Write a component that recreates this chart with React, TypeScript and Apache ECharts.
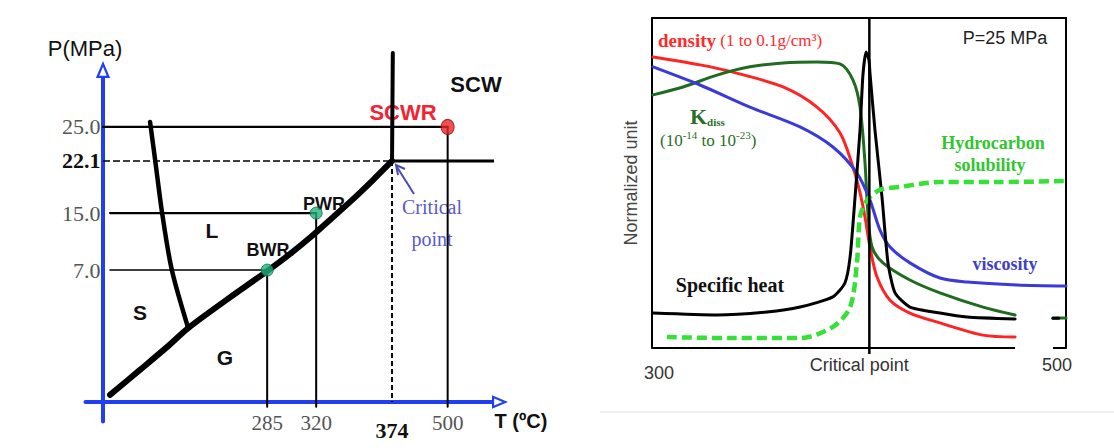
import React, { useEffect, useRef } from 'react';
import * as echarts from 'echarts';

// ---------- Left panel: schematic phase diagram of water ----------
// Schematic axis units (the diagram is not drawn to scale)
const tempTickPos = [42.2, 54.8, 74.3, 88.6];
const tempTickLabels = ['285', '320', '374', '500'];
const presTickPos = [40.7, 58.3, 74.4, 84.9];
const presTickLabels = ['7.0', '15.0', '22.1', '25.0'];

const vaporCurve = [
  [1.8, 2.2], [9.5, 9.9], [16.5, 17.0], [21.9, 22.8], [32.1, 31.8], [42.2, 40.4],
  [48.1, 45.7], [53.7, 51.2], [58.9, 56.8], [64.0, 62.3], [69.4, 68.5], [74.3, 74.4],
];
const meltingCurve = [[12.1, 86.4], [13.4, 74.7], [15.2, 58.3], [17.7, 40.7], [21.9, 22.8]];
const criticalIsotherm = [[74.3, 74.4], [74.5, 107.7]];
const criticalIsobar = [[74.3, 74.4], [103.9, 74.4]];

const reactorNames = ['BWR', 'PWR', 'SCWR'];
const reactorTemp = [42.2, 54.8, 88.6];
const reactorPres = [40.7, 58.3, 84.9];
const reactorLineStart = [1.8, 1.8, 0];
const axisFoot = -1.5;

// ---------- Right panel: properties of water at P = 25 MPa ----------
const criticalTemp = 405;
const rightTickValues = [300, criticalTemp, 500];
const rightTickLabels = ['300', 'Critical point', '500'];

const density = [
  [300.5, 0.882], [323.2, 0.858], [339.1, 0.836], [363.3, 0.791], [379.7, 0.73], [390.8, 0.652],
  [397.1, 0.548], [400.5, 0.47], [402.9, 0.397], [405.3, 0.306], [408.7, 0.215], [415.0, 0.145],
  [424.6, 0.106], [439.1, 0.076], [459.9, 0.039], [475.4, 0.033],
];
const viscosity = [
  [300.5, 0.852], [323.2, 0.797], [347.3, 0.73], [371.5, 0.67], [387.4, 0.609], [399.0, 0.53],
  [405.3, 0.448], [410.1, 0.358], [415.0, 0.306], [424.6, 0.258], [439.1, 0.212], [452.2, 0.2],
  [476.3, 0.191], [500, 0.188],
];
const kdiss = [
  [300.5, 0.767], [315.0, 0.791], [331.4, 0.827], [347.3, 0.852], [363.3, 0.864], [379.7, 0.867],
  [390.8, 0.861], [397.1, 0.812], [400.5, 0.73], [402.9, 0.561], [404.3, 0.409], [406.3, 0.306],
  [411.6, 0.258], [424.6, 0.206], [439.1, 0.167], [459.9, 0.124], [475.4, 0.1],
];
const kdissTail = [[493.7, 0.091], [500, 0.091]];
const specificHeat = [
  [300.5, 0.106], [331.4, 0.1], [355.6, 0.109], [371.5, 0.124], [387.4, 0.155], [393.2, 0.197],
  [395.7, 0.276], [398.1, 0.458], [400.5, 0.661], [401.9, 0.827], [403.4, 0.897], [404.8, 0.873],
  [405.3, 0.833], [407.7, 0.661], [411.1, 0.458], [414.0, 0.258], [417.4, 0.167], [424.6, 0.124],
  [439.1, 0.106], [452.2, 0.094], [475.4, 0.088],
];
const specificHeatTail = [[493.7, 0.09], [496.5, 0.09]];
const hydrocarbon = [
  [307.2, 0.033], [339.1, 0.03], [371.5, 0.03], [387.4, 0.064], [395.7, 0.124], [399.0, 0.258],
  [400.5, 0.397], [403.9, 0.448], [410.1, 0.479], [419.8, 0.488], [439.1, 0.503], [468.1, 0.503],
  [500, 0.506],
];
const bottomFrame = [[[300, 0], [475.4, 0]], [[493.7, 0], [500, 0]]];

const SERIF = '"Liberation Serif", "Times New Roman", serif';
const SANS = '"Liberation Sans", Arial, sans-serif';
const AXIS_BLUE = '#1f3ff0';
const hollowArrow = 'path://M5,0 L10,12 L0,12 Z M5,4 L2.4,10.4 L7.6,10.4 Z';

function nearestIndex(arr: number[], v: number) {
  let best = 0;
  arr.forEach((a, i) => { if (Math.abs(a - v) < Math.abs(arr[best] - v)) best = i; });
  return best;
}

function lineSeries(data: number[][], color: string, width: number, grid: number, extra: any = {}) {
  const { lineStyle, ...rest } = extra;
  return {
    type: 'line',
    xAxisIndex: grid === 0 ? 0 : 1,
    yAxisIndex: grid === 0 ? 0 : 1,
    data,
    showSymbol: false,
    symbol: 'none',
    clip: false,
    silent: true,
    lineStyle: { color, width, cap: 'round', join: 'round', ...(lineStyle || {}) },
    ...rest,
  };
}

function buildOption() {
  const series: any[] = [];
  // Left panel
  series.push(lineSeries(vaporCurve, '#000', 6, 0, { smooth: 0.3 }));
  series.push(lineSeries(meltingCurve, '#000', 4.5, 0, { smooth: 0.3 }));
  series.push(lineSeries(criticalIsotherm, '#000', 4, 0));
  series.push(lineSeries(criticalIsobar, '#000', 3, 0));
  series.push(lineSeries([[0, presTickPos[2]], [tempTickPos[2], presTickPos[2]]], '#000', 1.6, 0, { lineStyle: { type: [7, 3], cap: 'butt' } }));
  series.push(lineSeries([[tempTickPos[2], presTickPos[2]], [tempTickPos[2], 0]], '#000', 2, 0, { lineStyle: { type: [5, 3], cap: 'butt' } }));
  reactorNames.forEach((_, i) => {
    series.push(lineSeries([[reactorLineStart[i], reactorPres[i]], [reactorTemp[i], reactorPres[i]]], '#000', i === 0 ? 1.5 : 2.2, 0));
    series.push(lineSeries([[reactorTemp[i], reactorPres[i]], [reactorTemp[i], axisFoot]], '#000', 2, 0));
  });
  series.push({
    type: 'scatter', xAxisIndex: 0, yAxisIndex: 0, silent: true, z: 5,
    data: reactorNames.map((n, i) => ({
      name: n,
      value: [reactorTemp[i], reactorPres[i]],
      symbolSize: i === 2 ? [13, 15] : 12,
      itemStyle: i === 2
        ? { color: '#ec2428', borderColor: '#8a1010', borderWidth: 1 }
        : { color: '#20b37c', borderColor: '#0c6b45', borderWidth: 1 },
    })),
  });

  // Right panel
  series.push(lineSeries(density, '#ff2424', 3, 1, { smooth: 0.3 }));
  series.push(lineSeries(kdiss, '#1f6b1f', 3, 1, { smooth: 0.3 }));
  series.push(lineSeries(kdissTail, '#1f6b1f', 3, 1));
  series.push(lineSeries(viscosity, '#3a3ad8', 3, 1, { smooth: 0.3 }));
  series.push(lineSeries(specificHeat, '#000', 3, 1, { smooth: 0.2 }));
  series.push(lineSeries(specificHeatTail, '#000', 3, 1));
  series.push(lineSeries(hydrocarbon, '#36e036', 4.5, 1, { smooth: 0.3, lineStyle: { type: [10, 5], cap: 'butt' } }));
  series.push(lineSeries([[criticalTemp, -0.018], [criticalTemp, 1]], '#000', 2.5, 1, { lineStyle: { cap: 'butt' } }));
  bottomFrame.forEach((seg) => series.push(lineSeries(seg, '#000', 2, 1, { lineStyle: { cap: 'butt' } })));

  const noSplit = { show: false };
  const frameLine = { show: true, onZero: false, lineStyle: { color: '#000', width: 2 } };
  const center = { textAlign: 'center', textVerticalAlign: 'middle' };

  return {
    animation: false,
    backgroundColor: '#fff',
    grid: [
      { left: 85.5, top: 78, width: 406.5, height: 343.4, outerBoundsMode: 'none' },
      { left: 652, top: 18, width: 414, height: 330, outerBoundsMode: 'none' },
    ],
    xAxis: [
      {
        type: 'value', gridIndex: 0, min: -4.5, max: 100,
        axisLine: {
          show: true, onZero: true,
          lineStyle: { color: AXIS_BLUE, width: 4 },
          symbol: ['none', hollowArrow], symbolSize: [17, 16], symbolOffset: [0, 8],
        },
        axisTick: { show: false }, splitLine: noSplit,
        axisLabel: {
          customValues: tempTickPos, margin: -9, color: '#555', fontFamily: SERIF, fontSize: 21,
          formatter: (v: number) => {
            const i = nearestIndex(tempTickPos, v);
            return i === 2 ? `{b|${tempTickLabels[i]}}` : tempTickLabels[i];
          },
          rich: { b: { fontFamily: SERIF, fontSize: 22, fontWeight: 'bold', color: '#111', padding: [7, 0, 0, 0] } },
        },
      },
      {
        type: 'value', gridIndex: 1, min: 300, max: 500, position: 'bottom',
        axisLine: { show: false, onZero: false }, axisTick: { show: false }, splitLine: noSplit,
        axisLabel: {
          customValues: rightTickValues, margin: 8, color: '#333', fontFamily: SANS, fontSize: 18,
          formatter: (v: number) => {
            const i = nearestIndex(rightTickValues, v);
            return `{t${i}|${rightTickLabels[i]}}`;
          },
          rich: {
            t0: { fontFamily: SANS, fontSize: 18, color: '#333', padding: [8, 0, 0, 14] },
            t1: { fontFamily: SANS, fontSize: 18, color: '#333', padding: [0, 20, 0, 0] },
            t2: { fontFamily: SANS, fontSize: 18, color: '#333', padding: [0, 18, 0, 0] },
          },
        },
      },
      {
        type: 'value', gridIndex: 1, min: 300, max: 500, position: 'top',
        axisLine: frameLine, axisTick: { show: false }, axisLabel: { show: false }, splitLine: noSplit,
      },
    ],
    yAxis: [
      {
        type: 'value', gridIndex: 0, min: -6, max: 100,
        axisLine: {
          show: true, onZero: true,
          lineStyle: { color: AXIS_BLUE, width: 4 },
          symbol: ['none', hollowArrow], symbolSize: [15, 17], symbolOffset: [0, 8.5],
        },
        axisTick: { show: false }, splitLine: noSplit,
        axisLabel: {
          customValues: presTickPos, margin: -15, color: '#555', fontFamily: SERIF, fontSize: 22,
          formatter: (v: number) => {
            const i = nearestIndex(presTickPos, v);
            return i === 2 ? `{b|${presTickLabels[i]}}` : presTickLabels[i];
          },
          rich: { b: { fontFamily: SERIF, fontSize: 22, fontWeight: 'bold', color: '#111' } },
        },
      },
      {
        type: 'value', gridIndex: 1, min: 0, max: 1, position: 'left',
        axisLine: frameLine, axisTick: { show: false }, axisLabel: { show: false }, splitLine: noSplit,
        name: 'Normalized unit', nameLocation: 'middle', nameGap: 12,
        nameTextStyle: { fontFamily: SANS, fontSize: 18, color: '#444' },
      },
      {
        type: 'value', gridIndex: 1, min: 0, max: 1, position: 'right',
        axisLine: frameLine, axisTick: { show: false }, axisLabel: { show: false }, splitLine: noSplit,
      },
    ],
    series,
    graphic: [
      { type: 'line', shape: { x1: 600, y1: 412, x2: 1114, y2: 412 }, style: { stroke: '#e2e2e2', lineWidth: 1 }, silent: true },
      // left panel texts
      { type: 'text', x: 85, y: 48, style: { text: 'P(MPa)', font: `22px ${SANS}`, fill: '#111', ...center } },
      { type: 'text', x: 521, y: 421, style: { text: 'T (ºC)', font: `bold 20px ${SANS}`, fill: '#111', ...center } },
      { type: 'text', x: 140, y: 312, style: { text: 'S', font: `bold 21px ${SANS}`, fill: '#111', ...center } },
      { type: 'text', x: 212, y: 230, style: { text: 'L', font: `bold 21px ${SANS}`, fill: '#111', ...center } },
      { type: 'text', x: 225, y: 357, style: { text: 'G', font: `bold 21px ${SANS}`, fill: '#111', ...center } },
      { type: 'text', x: 268, y: 250, style: { text: 'BWR', font: `bold 18px ${SANS}`, fill: '#111', ...center } },
      { type: 'text', x: 324, y: 204, style: { text: 'PWR', font: `bold 18px ${SANS}`, fill: '#111', ...center } },
      { type: 'text', x: 403, y: 112, style: { text: 'SCWR', font: `bold 22px ${SANS}`, fill: '#f22433', ...center } },
      { type: 'text', x: 476, y: 84, style: { text: 'SCW', font: `bold 22px ${SANS}`, fill: '#111', ...center } },
      { type: 'text', x: 432, y: 207, style: { text: 'Critical', font: `20px ${SERIF}`, fill: '#5a5ac8', ...center } },
      { type: 'text', x: 432, y: 239, style: { text: 'point', font: `20px ${SERIF}`, fill: '#5a5ac8', ...center } },
      { type: 'line', shape: { x1: 414, y1: 194, x2: 397, y2: 167 }, style: { stroke: '#4a4ab8', lineWidth: 2 }, silent: true },
      { type: 'polyline', shape: { points: [[405, 169], [396, 165], [398, 175]] }, style: { stroke: '#4a4ab8', lineWidth: 2, fill: null }, silent: true },
      // right panel texts
      {
        type: 'text', x: 658, y: 40,
        style: {
          text: '{d|density}{p| (1 to 0.1g/cm³)}',
          textVerticalAlign: 'middle',
          rich: {
            d: { fontFamily: SERIF, fontSize: 19, fontWeight: 'bold', fill: '#ff2a2a' },
            p: { fontFamily: SERIF, fontSize: 17, fill: '#ff2a2a' },
          },
        },
      },
      {
        type: 'text', x: 690, y: 114,
        style: {
          text: '{k|K}{s|diss}',
          textVerticalAlign: 'middle',
          rich: {
            k: { fontFamily: SERIF, fontSize: 22, fontWeight: 'bold', fill: '#2a6e2a', lineHeight: 26, verticalAlign: 'bottom' },
            s: { fontFamily: SERIF, fontSize: 11, fontWeight: 'bold', fill: '#2a6e2a', lineHeight: 26, verticalAlign: 'bottom' },
          },
        },
      },
      {
        type: 'text', x: 660, y: 139,
        style: {
          text: '{n|(10}{u|-14}{n| to 10}{u|-23}{n|)}',
          textVerticalAlign: 'middle',
          rich: {
            n: { fontFamily: SERIF, fontSize: 17, fill: '#2a6e2a', lineHeight: 20, verticalAlign: 'bottom' },
            u: { fontFamily: SERIF, fontSize: 11, fill: '#2a6e2a', lineHeight: 20, verticalAlign: 'top' },
          },
        },
      },
      { type: 'text', x: 993, y: 143, style: { text: 'Hydrocarbon', font: `bold 18px ${SERIF}`, fill: '#2fc62f', ...center } },
      { type: 'text', x: 990, y: 165, style: { text: 'solubility', font: `bold 18px ${SERIF}`, fill: '#2fc62f', ...center } },
      { type: 'text', x: 1005, y: 264, style: { text: 'viscosity', font: `bold 18px ${SERIF}`, fill: '#4040c4', ...center } },
      { type: 'text', x: 730, y: 285, style: { text: 'Specific heat', font: `bold 20px ${SERIF}`, fill: '#111', ...center } },
      { type: 'text', x: 1005, y: 38, style: { text: 'P=25 MPa', font: `18px ${SANS}`, fill: '#222', ...center } },
    ],
  };
}

export default function App() {
  const ref = useRef<HTMLDivElement>(null);
  useEffect(() => {
    if (!ref.current) return;
    const chart = echarts.init(ref.current, undefined, { renderer: 'svg' });
    chart.setOption(buildOption() as any);
    return () => chart.dispose();
  }, []);
  return (
    <div
      ref={ref}
      style={{ position: 'fixed', left: 0, top: 0, width: 1114, height: 448, background: '#fff' }}
    />
  );
}
